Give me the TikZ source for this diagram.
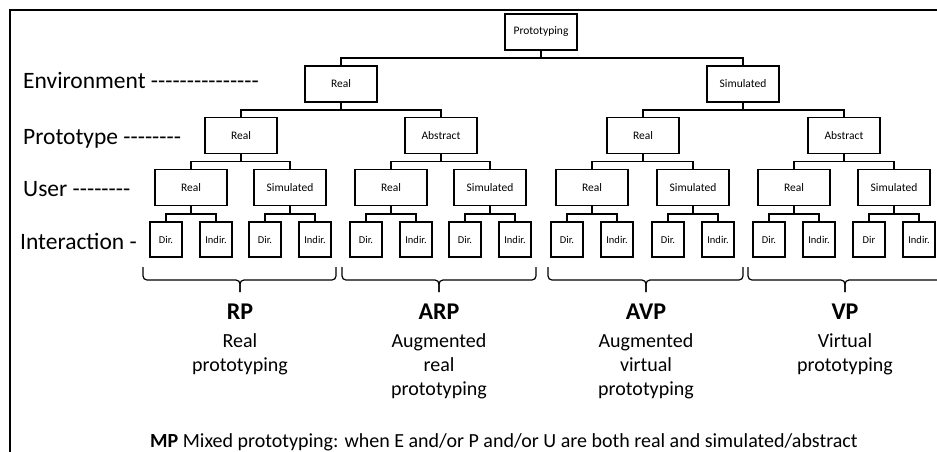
\documentclass[tikz,border=0pt]{standalone}
\usepackage{fontspec}
\setmainfont{Carlito}
\newcommand\hy[1]{\foreach \k in {1,...,#1}{\mbox{-}}}
\begin{document}
\begin{tikzpicture}[x=1pt,y=-1pt,
  box/.style={draw,line width=1.6pt,minimum width=72pt,minimum height=36pt,inner sep=0pt,font=\fontsize{11.5}{13}\selectfont},
  leaf/.style={draw,line width=1.6pt,minimum width=32pt,minimum height=35pt,inner sep=0pt,font=\fontsize{10.5}{12}\selectfont},
  conn/.style={line width=1.6pt},
  lvl/.style={anchor=base west,font=\fontsize{23.5}{28}\selectfont,inner sep=0pt},
  brc/.style={line width=1.2pt,rounded corners=4pt},
  restitle/.style={anchor=base,font=\fontsize{24}{28}\selectfont\bfseries,inner sep=0pt},
  restext/.style={anchor=north,align=center,font=\fontsize{20}{24}\selectfont,inner sep=0pt}]
\clip (0,0) rectangle (937,451);
\draw[line width=2pt] (9.5,452) -- (9.5,10) -- (938,10);

% left level labels
\node[lvl] (lenv) at (23,88) {Environment \hy{15}};
\node[lvl] (lpro) at (23,144) {Prototype \hy{8}};
\node[lvl] (lusr) at (23,196) {User \hy{8}};
\node[lvl] (lint) at (20,249) {Interaction \hy{1}};

% tree
\node[box] (root) at (541,32) {Prototyping};
\node[box] (e1) at (341,84) {Real};
\node[box] (e2) at (743,84) {Simulated};
\node[box] (p1) at (241,135.5) {Real};
\node[box] (p2) at (441,135.5) {Abstract};
\node[box] (p3) at (643,135.5) {Real};
\node[box] (p4) at (844,135.5) {Abstract};
\foreach \i/\x/\t in {1/191/Real,2/290/Simulated,3/391/Real,4/490/Simulated,5/592/Real,6/693/Simulated,7/794/Real,8/894/Simulated}{
  \node[box] (u\i) at (\x,187.5) {\t};
}
\foreach \i/\x/\t in {1/166/Dir.,2/216/Indir.,3/265/Dir.,4/315/Indir.,5/366/Dir.,6/416/Indir.,7/465/Dir.,8/515/Indir.,9/567/Dir.,10/617/Indir.,11/668/Dir.,12/718/Indir.,13/769/Dir.,14/819/Indir.,15/869/Dir,16/919/Indir.}{
  \node[leaf] (l\i) at (\x,239.5) {\t};
}

\newcommand\branchto[3]{%
  \path (#1.south) -- (#1.south |- #2.north) coordinate[midway] (bus#1);
  \draw[conn] (#1.south) -- (bus#1);
  \draw[conn] (#2.north) |- (bus#1) -| (#3.north);
}
\branchto{root}{e1}{e2}
\branchto{e1}{p1}{p2}
\branchto{e2}{p3}{p4}
\branchto{p1}{u1}{u2}
\branchto{p2}{u3}{u4}
\branchto{p3}{u5}{u6}
\branchto{p4}{u7}{u8}
\branchto{u1}{l1}{l2}
\branchto{u2}{l3}{l4}
\branchto{u3}{l5}{l6}
\branchto{u4}{l7}{l8}
\branchto{u5}{l9}{l10}
\branchto{u6}{l11}{l12}
\branchto{u7}{l13}{l14}
\branchto{u8}{l15}{l16}

% braces
\foreach \a/\b/\c in {143/336/240,342/536/439,548/743/646,748/942/845}{
  \draw[brc] (\a,267) -- (\a,280) -- (\c,280) -- (\c,292);
  \draw[brc] (\b,267) -- (\b,280) -- (\c,280) -- (\c,292);
}

% results
\node[restitle] (rp) at (240,319) {RP};
\node[restext] (rpt) at (240,333) {Real\\prototyping};
\node[restitle] (arp) at (439,319) {ARP};
\node[restext] (arpt) at (439,333) {Augmented\\real\\prototyping};
\node[restitle] (avp) at (646,319) {AVP};
\node[restext] (avpt) at (646,333) {Augmented\\virtual\\prototyping};
\node[restitle] (vp) at (845,319) {VP};
\node[restext] (vpt) at (845,333) {Virtual\\prototyping};

\node[anchor=base west,inner sep=0pt,font=\fontsize{20}{24}\selectfont] (mp) at (150,447) {\textbf{MP} Mixed prototyping: when E and/or P and/or U are both real and simulated/abstract};
\end{tikzpicture}
\end{document}
